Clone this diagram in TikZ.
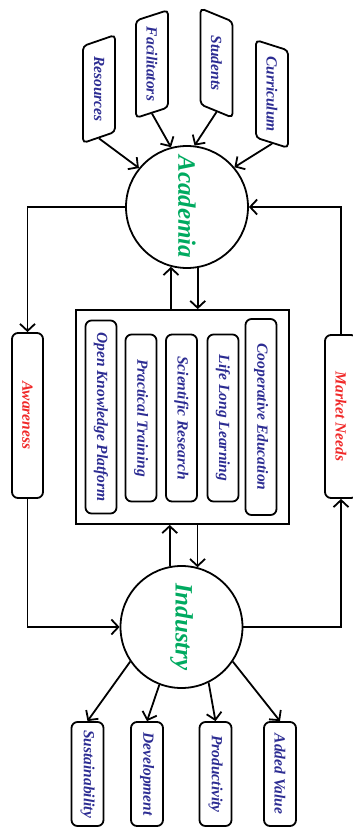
\documentclass[tikz,border=0pt]{standalone}
\usepackage{fontspec}
\setmainfont{Liberation Serif}
\usetikzlibrary{shapes.geometric, arrows.meta, positioning}
\usepackage{xcolor}
\definecolor{HubGreen}{RGB}{0,170,96}
\definecolor{TagBlue}{RGB}{44,44,146}
\definecolor{NeedRed}{RGB}{240,40,40}
\newcommand{\tagfont}{\fontsize{15.5}{18}\selectfont\bfseries\itshape}

\begin{document}
\begin{tikzpicture}[
          x=1pt, y=-1pt,
          hub/.style={circle, draw, line width=1.8pt, rotate=-90, minimum size=122pt, inner sep=0pt, text=HubGreen, font=\fontsize{25}{28}\selectfont\bfseries\itshape},
          input/.style={trapezium, trapezium stretches=true, draw, line width=1.8pt, rounded corners=4pt, rotate=-90, minimum width=108pt, minimum height=32pt, inner sep=1pt, text=TagBlue, font=\tagfont},
          pill/.style={rectangle, draw, line width=1.8pt, rounded corners=6pt, rotate=-90, minimum height=31pt, inner sep=2pt, text=TagBlue, font=\tagfont},
          link/.style={line width=1.8pt, -{Straight Barb[length=7pt, width=15pt]}}
        ]
          \useasboundingbox (0,0) rectangle (353,827);
          \clip (0,0) rectangle (353,827);

          \node (acad) [hub] at (187,207) {Academia};
          \node (ind) [hub] at (181.5,627) {Industry};

          \node (res) [input, trapezium left angle=125, trapezium right angle=55] at (99,89) {Resources};
          \node (fac) [input, trapezium left angle=125, trapezium right angle=55] at (152,64) {Facilitators};
          \node (stu) [input, trapezium left angle=55, trapezium right angle=125, minimum width=110pt] at (216.5,63) {Students};
          \node (cur) [input, trapezium left angle=55, trapezium right angle=125] at (272,94) {Curriculum};

          \node (core) [draw, line width=1.8pt, minimum width=213pt, minimum height=214pt] at (182.5,417) {};
          \node (open) [pill, minimum width=193pt] at (101,417) {Open Knowledge Platform};
          \node (practical) [pill, minimum width=167pt] at (141,418) {Practical Training};
          \node (research) [pill, minimum width=167pt] at (181.5,418) {Scientific Research};
          \node (lifelong) [pill, minimum width=167pt] at (223,418) {Life Long Learning};
          \node (coop) [pill, minimum width=196pt] at (261,417) {Cooperative Education};

          \node (aware) [pill, minimum width=165pt, text=NeedRed] at (27.5,415.5) {Awareness};
          \node (needs) [pill, minimum width=163pt, minimum height=32pt, text=NeedRed] at (341,416.5) {Market Needs};

          \node (sust) [pill, minimum width=104pt, minimum height=32pt] at (87.5,774) {Sustainability};
          \node (dev) [pill, minimum width=104pt, minimum height=32pt] at (147,774) {Development};
          \node (prod) [pill, minimum width=104pt, minimum height=32pt] at (215.5,774) {Productivity};
          \node (added) [pill, minimum width=104pt, minimum height=32pt] at (280,774) {Added Value};

          % inputs into academia
          \draw[link] (res.east) -- (acad.231);
          \draw[link] (fac.east) -- (acad.195);
          \draw[link] (stu.east) -- (acad.173);
          \draw[link] (cur.east) -- (acad.130);

          % academia <-> programmes <-> industry
          \draw[link] (core.north -| acad.345) -- (acad.345);
          \draw[link] (acad.10) -- (core.north -| acad.10);
          \draw[link] (ind.191) -- (ind.191 |- core.south);
          \draw[link] (core.south -| ind.165) -- (ind.165);

          % side loops
          \draw[link] (acad.south) -| (aware.west);
          \draw[link] (aware.east) |- (ind.south);
          \draw[link] (ind.north) -| (needs.east);
          \draw[link] (needs.west) |- (acad.north);

          % industry outcomes
          \draw[link] (ind.304) -- (sust.west);
          \draw[link] (ind.339) -- (dev.west);
          \draw[link] (ind.26) -- (prod.west);
          \draw[link] (ind.56) -- (added.west);
        \end{tikzpicture}
\end{document}
